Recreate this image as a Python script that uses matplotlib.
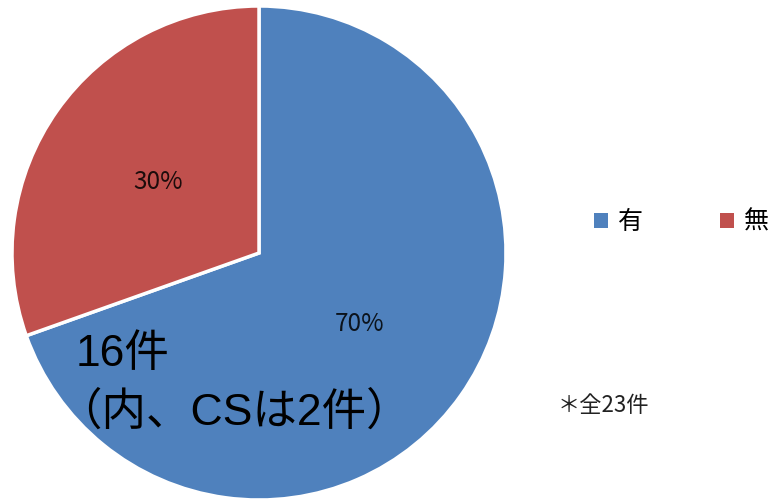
import matplotlib
matplotlib.use("Agg")
import matplotlib.pyplot as plt

# counts per answer (全23件)
labels = ["有", "無"]
counts = [16, 7]
colors = ["#4F81BD", "#C0504D"]
note_line1 = "16件"
note_line2 = "（内、CSは2件）"
note_total = "＊全23件"

plt.rcParams['font.family'] = ['Noto Sans CJK JP', 'DejaVu Sans']

fig = plt.figure(figsize=(7.75, 5.03), dpi=100)
ax = fig.add_axes([12 / 775, 3 / 503, 494 / 775, 494 / 503])

wedges, _, autotexts = ax.pie(
    counts, colors=colors, startangle=90, counterclock=False,
    autopct=lambda p: f"{p:.0f}%", pctdistance=0.5, radius=1.0,
    wedgeprops=dict(edgecolor="white", linewidth=2.5),
    textprops=dict(fontsize=17.5, color="black", alpha=0.85),
)
ax.set_xlim(-1, 1)
ax.set_ylim(-1, 1)
ax.set_aspect("equal")
ax.axis("off")

# big annotation inside the blue slice
big_font = dict(fontsize=32, family=['Liberation Sans', 'Noto Sans CJK JP'])
fig.text(76 / 775, 1 - 334 / 503, note_line1, ha="left", va="top", **big_font)
fig.text(57 / 775, 1 - 391 / 503, note_line2, ha="left", va="top", **big_font)

leg = fig.legend(wedges, labels, ncol=2, loc="center left",
                 bbox_to_anchor=(594 / 775, 1 - 222 / 503), frameon=False,
                 borderaxespad=0, borderpad=0,
                 handlelength=0.55, handleheight=0.55, handletextpad=0.4,
                 columnspacing=3.1, fontsize=18)
for h in leg.legend_handles:
    h.set_edgecolor("none")

fig.text(558 / 775, 1 - 405 / 503, note_total, ha="left", va="center",
         fontsize=16, color="#222222")

fig.savefig("out.png", dpi=100)
